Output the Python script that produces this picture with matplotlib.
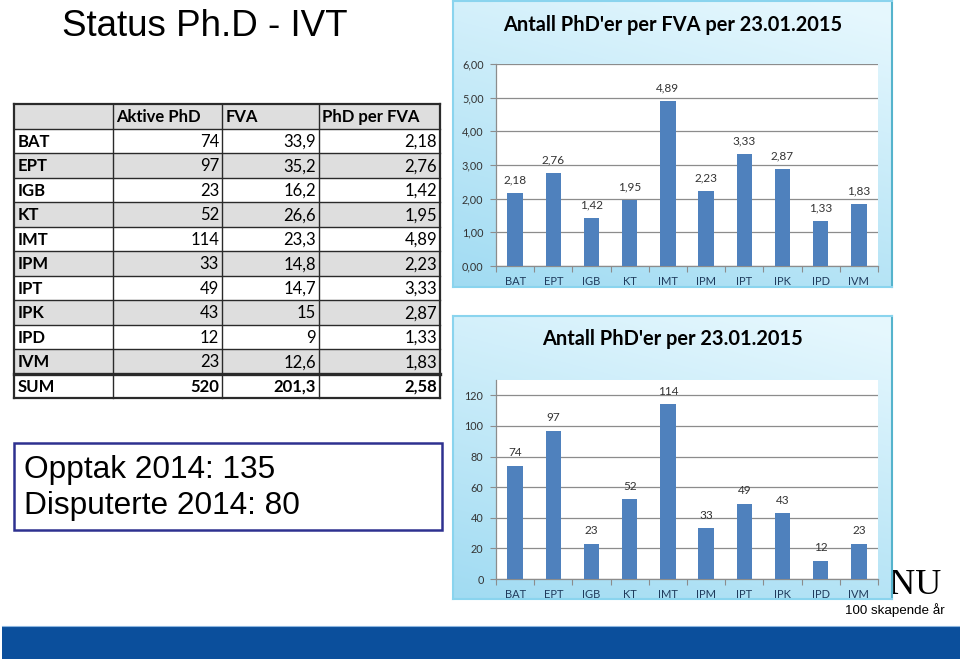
import numpy as np
import matplotlib
matplotlib.use('Agg')
import matplotlib.pyplot as plt
from matplotlib.patches import Rectangle

W, H = 960, 659

# ---------------- data ----------------
depts = ['BAT', 'EPT', 'IGB', 'KT', 'IMT', 'IPM', 'IPT', 'IPK', 'IPD', 'IVM']
aktive_phd = [74, 97, 23, 52, 114, 33, 49, 43, 12, 23]
fva = [33.9, 35.2, 16.2, 26.6, 23.3, 14.8, 14.7, 15, 9, 12.6]
phd_per_fva = [2.18, 2.76, 1.42, 1.95, 4.89, 2.23, 3.33, 2.87, 1.33, 1.83]
sum_label = 'SUM'
sum_aktive = 520
sum_fva = 201.3
sum_per_fva = 2.58
headers = ['', 'Aktive PhD', 'FVA', 'PhD per FVA']
title_main = 'Status Ph.D - IVT'
title_top = "Antall PhD'er per FVA per 23.01.2015"
title_bottom = "Antall PhD'er per 23.01.2015"
info_lines = ['Opptak 2014: 135', 'Disputerte 2014: 80']
yticks_top = [0, 1, 2, 3, 4, 5, 6]
yticks_bottom = [0, 20, 40, 60, 80, 100, 120]

SANS = 'Liberation Sans'
CAL = 'Lato'


def fmt_g(v):
    return f"{v:g}".replace('.', ',')


def fmt_2(v):
    return f"{v:.2f}".replace('.', ',')


fig = plt.figure(figsize=(9.6, 6.59), dpi=100)
fig.patch.set_facecolor('white')


def px_axes(x0, y0, x1, y1):
    return fig.add_axes([x0 / W, 1 - y1 / H, (x1 - x0) / W, (y1 - y0) / H])


# overlay axes in pixel coordinates
ov = fig.add_axes([0, 0, 1, 1])
ov.set_xlim(0, W)
ov.set_ylim(H, 0)
ov.axis('off')
ov.set_zorder(0)

# main title
ov.text(62, 26, title_main, fontsize=26.5, family=SANS, ha='left', va='center', color='black')

# ---------------- table ----------------
col_x = [14, 113, 222, 319, 440]
row_top = 104
row_h = 24.5
rows = [headers]
for d, a, f, p in zip(depts, aktive_phd, fva, phd_per_fva):
    rows.append([d, str(a), fmt_g(f), fmt_2(p)])
rows.append([sum_label, str(sum_aktive), fmt_g(sum_fva), fmt_2(sum_per_fva)])
nrows = len(rows)
for i in range(nrows):
    y0 = row_top + i * row_h
    if i % 2 == 0 and i != nrows - 1:
        ov.add_patch(Rectangle((col_x[0], y0), col_x[-1] - col_x[0], row_h,
                               facecolor='#dedede', edgecolor='none', zorder=1))
    for j, txt in enumerate(rows[i]):
        bold = (i == 0) or (j == 0) or (i == nrows - 1)
        yc = y0 + row_h / 2 + 1
        if i == 0 or j == 0:
            ov.text(col_x[j] + 3.5, yc, txt, ha='left', va='center', fontsize=12,
                    family=CAL, fontweight='bold' if bold else 'normal', zorder=3)
        else:
            ov.text(col_x[j + 1] - 3, yc, txt, ha='right', va='center', fontsize=12,
                    family=CAL, fontweight='bold' if bold else 'normal', zorder=3)
# lines
y_bottom = row_top + nrows * row_h
for i in range(1, nrows):
    y = row_top + i * row_h
    lw = 2.4 if i == nrows - 1 else 1.0
    ov.plot([col_x[0], col_x[-1]], [y, y], color='#2a2a2a', lw=lw, zorder=2)
for k, x in enumerate(col_x):
    lw = 1.6 if k in (0, len(col_x) - 1) else 1.0
    ov.plot([x, x], [row_top, y_bottom], color='#2a2a2a', lw=lw, zorder=2)
ov.plot([col_x[0], col_x[-1]], [row_top, row_top], color='#2a2a2a', lw=1.6, zorder=2)
ov.plot([col_x[0], col_x[-1]], [y_bottom, y_bottom], color='#2a2a2a', lw=1.6, zorder=2)

# ---------------- info box ----------------
ov.add_patch(Rectangle((14, 443), 428, 87, facecolor='white', edgecolor='#2e3190', lw=1.8, zorder=2))
ov.text(24, 478, info_lines[0], ha='left', va='baseline', fontsize=22.8, family=SANS, zorder=3)
ov.text(24, 514, info_lines[1], ha='left', va='baseline', fontsize=22.8, family=SANS, zorder=3)

# ---------------- logo & strip ----------------
ov.text(941, 594, 'NTNU', ha='right', va='baseline', fontsize=26, family='Liberation Serif', zorder=1)
ov.text(945, 614, '100 skapende år', ha='right', va='baseline', fontsize=9.6, family=SANS, zorder=1)
ov.add_patch(Rectangle((2, 626), W - 2, H - 626, facecolor='#0b4f9c', edgecolor='none', zorder=1))
ov.plot([2, W], [626, 626], color='#8cb6e0', lw=0.8, zorder=2)


# ---------------- charts ----------------
def draw_chart(box, plot, values, yticks, ylim, lab_fmt, tick_fmt, title, title_y):
    bx = px_axes(*box)
    bx.set_zorder(1)
    ny, nx = 200, 300
    t = np.linspace(0, 1, ny)[:, None]
    s = np.linspace(0, 1, nx)[None, :]
    mix = np.clip(0.75 * t + 0.3 * (1 - s) - 0.05, 0, 1)
    light = np.array([0.90, 0.97, 0.995])
    dark = np.array([0.63, 0.86, 0.95])
    img = light[None, None, :] + (dark - light)[None, None, :] * mix[:, :, None]
    bx.imshow(img, extent=[0, 1, 0, 1], aspect='auto', origin='upper')
    bx.set_xlim(0, 1)
    bx.set_ylim(0, 1)
    bx.set_xticks([])
    bx.set_yticks([])
    for sp in bx.spines.values():
        sp.set_color('#8ad4ee')
        sp.set_linewidth(1.5)
    bx.spines['right'].set_color('#55b3cc')

    fig.text(((box[0] + box[2]) / 2 + 0) / W, 1 - title_y / H, title, ha='center', va='center',
             fontsize=14.4, family=CAL, fontweight='bold', color='black')

    ax = px_axes(*plot)
    ax.set_zorder(2)
    ax.set_facecolor('white')
    x = np.arange(len(values))
    ax.bar(x, values, width=0.4, color='#4f81bd', zorder=3)
    ax.set_xlim(-0.5, len(values) - 0.5)
    ax.set_ylim(*ylim)
    ax.set_yticks(yticks)
    ax.set_yticklabels([tick_fmt(v) for v in yticks], family=CAL, fontsize=7.8, color='#333333')
    ax.yaxis.grid(True, color='#8c8c8c', lw=0.9)
    ax.set_axisbelow(True)
    for k in ('top', 'right'):
        ax.spines[k].set_visible(False)
    for k in ('left', 'bottom'):
        ax.spines[k].set_color('#8c8c8c')
        ax.spines[k].set_linewidth(0.9)
    ax.set_xticks(np.arange(-0.5, len(values), 1))
    ax.set_xticklabels([])
    ax.set_xticks(x, minor=True)
    ax.set_xticklabels(depts, minor=True, family=CAL, fontsize=8, color='#1f3b5c')
    ax.tick_params(axis='x', which='major', length=4, color='#8c8c8c', direction='out')
    ax.tick_params(axis='x', which='minor', length=0, pad=7)
    ax.tick_params(axis='y', length=4, color='#8c8c8c', direction='out', pad=5)
    for xi, v in zip(x, values):
        ax.annotate(lab_fmt(v), (xi, v), xytext=(0, 5.5), textcoords='offset points',
                    ha='center', va='bottom', fontsize=8.5, family=CAL, color='#333333')
    return ax


draw_chart((453, 1, 892, 287), (496, 64, 878, 266), phd_per_fva, yticks_top, (0, 6),
           fmt_2, fmt_2, title_top, 25)
draw_chart((453, 316, 892, 599), (496, 380, 878, 579), aktive_phd, yticks_bottom, (0, 130),
           lambda v: str(v), lambda v: str(v), title_bottom, 339)

fig.savefig('out.png', dpi=100)
